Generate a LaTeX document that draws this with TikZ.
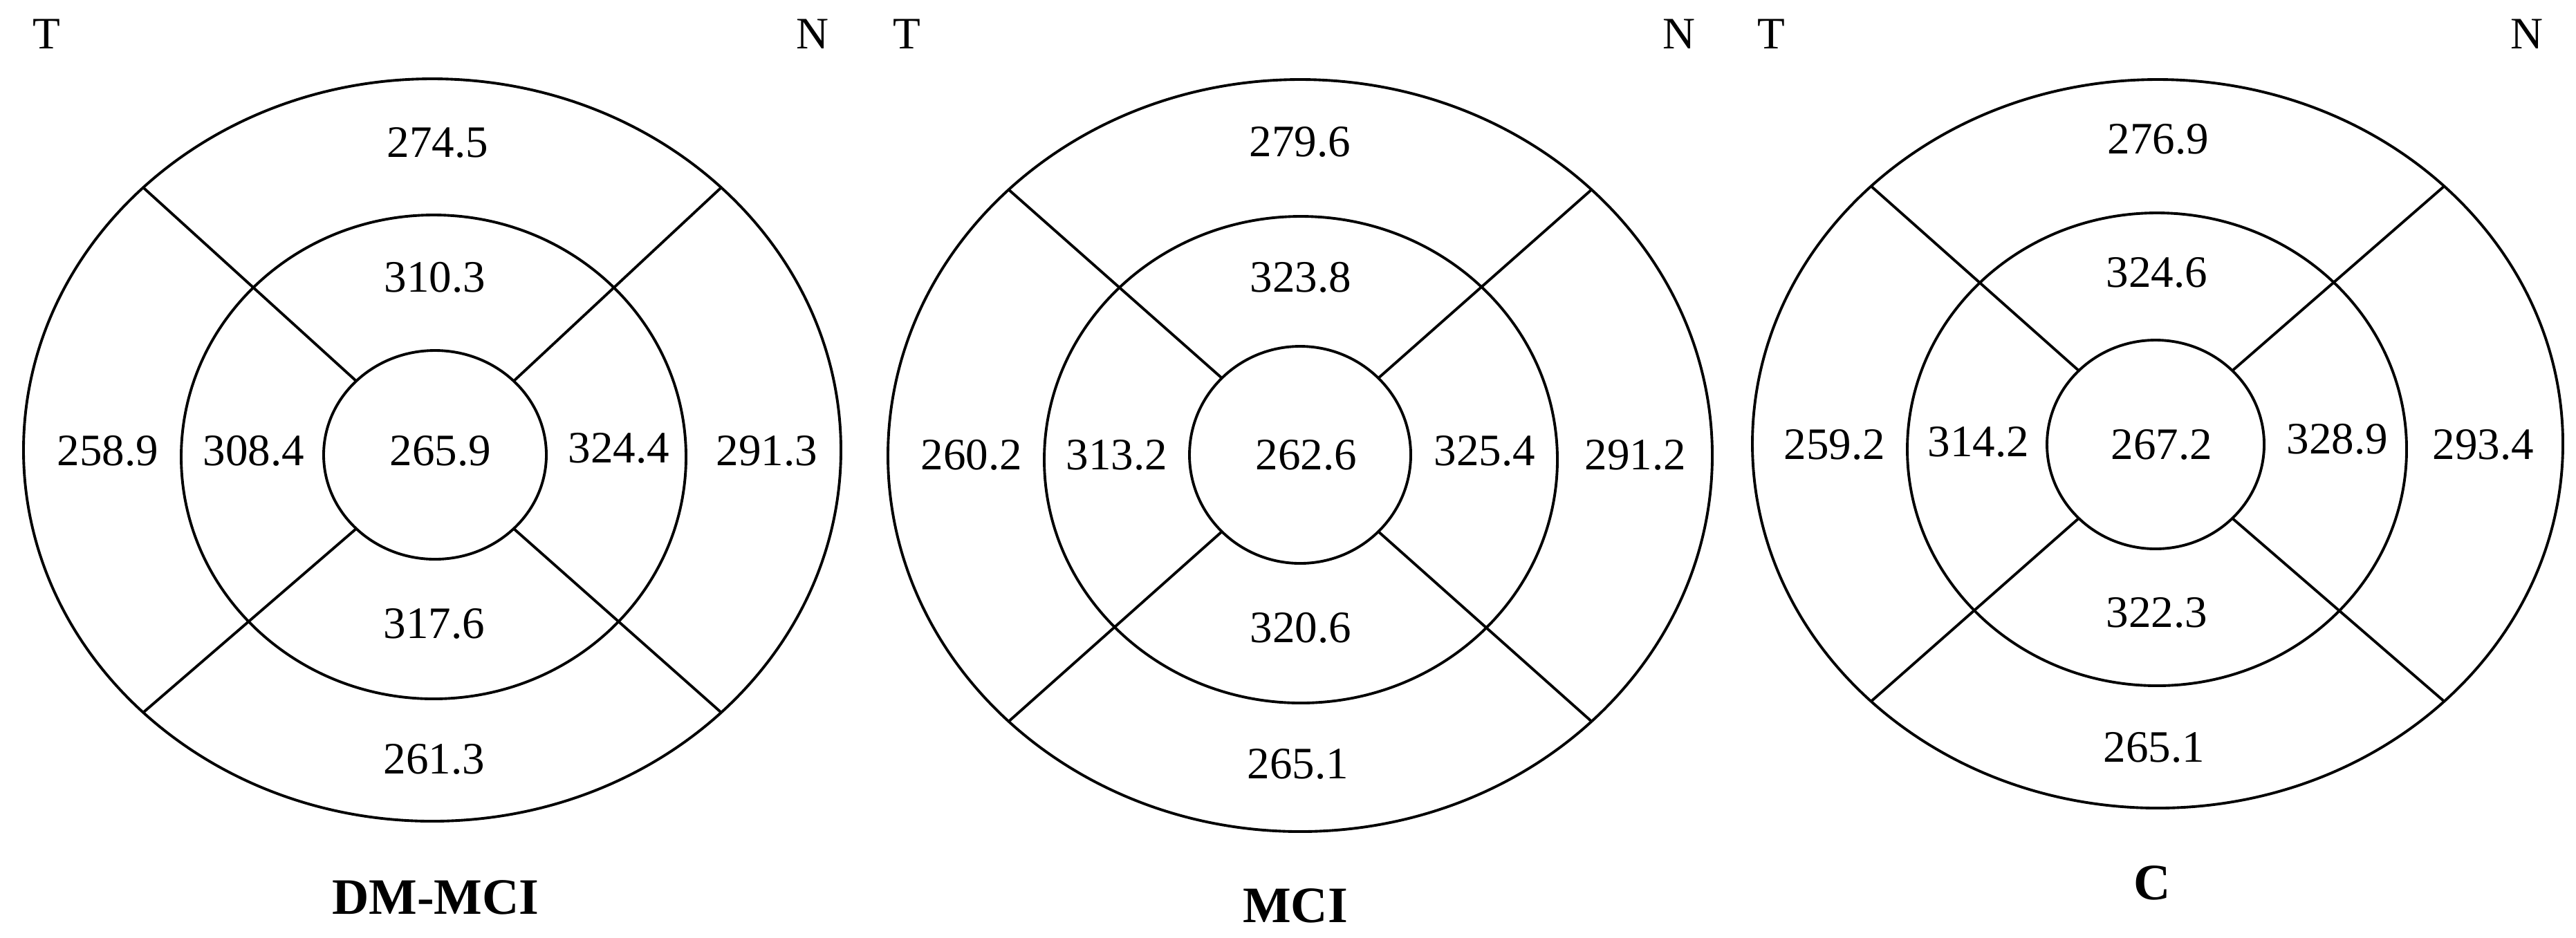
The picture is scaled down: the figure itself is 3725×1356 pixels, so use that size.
\documentclass[tikz,border=0pt]{standalone}
\usepackage{fontspec}
\setmainfont{Liberation Serif}
\usetikzlibrary{calc}
\begin{document}
\begin{tikzpicture}[x=0.01cm,y=-0.01cm,
  ring/.style={line width=1.1pt},
  spoke/.style={line width=1.1pt},
  val/.style={font=\fontsize{18.5}{20}\selectfont, inner sep=0pt},
  side/.style={font=\fontsize{18.5}{20}\selectfont, inner sep=0pt},
  grp/.style={font=\fontsize{21}{23}\selectfont\bfseries, inner sep=0pt}]
\useasboundingbox[fill=white] (0,0) rectangle (3725,1356);

% ---------------- chart 1: DM-MCI
\coordinate (A-o) at (625,651);
\coordinate (A-m) at (627,661);
\coordinate (A-i) at (629,658);
\draw[ring] (A-o) ellipse [x radius=591, y radius=537];
\draw[ring] (A-m) ellipse [x radius=365, y radius=350];
\draw[ring] (A-i) ellipse [x radius=161, y radius=151];
\foreach \a in {45,135,225,315}
  \draw[spoke] ($(A-i)+(\a:161 and 151)$) -- ($(A-o)+(\a:591 and 537)$);
\node[side] (A-T) at (67,49) {T};
\node[side] (A-N) at (1175,49) {N};
\node[val] (A-os) at (633,206) {274.5};
\node[val] (A-is) at (629,401) {310.3};
\node[val] (A-ot) at (156,652) {258.9};
\node[val] (A-it) at (367,652) {308.4};
\node[val] (A-c)  at (637,652) {265.9};
\node[val] (A-in) at (895,648) {324.4};
\node[val] (A-on) at (1109,652) {291.3};
\node[val] (A-ii) at (628,902) {317.6};
\node[val] (A-oi) at (628,1098) {261.3};
\node[grp] (A-lab) at (630,1298) {DM-MCI};

% ---------------- chart 2: MCI
\coordinate (B-o) at (1880,659);
\coordinate (B-m) at (1881,665);
\coordinate (B-i) at (1880,658);
\draw[ring] (B-o) ellipse [x radius=596, y radius=544];
\draw[ring] (B-m) ellipse [x radius=371, y radius=352];
\draw[ring] (B-i) ellipse [x radius=160, y radius=157];
\foreach \a in {45,135,225,315}
  \draw[spoke] ($(B-i)+(\a:160 and 157)$) -- ($(B-o)+(\a:596 and 544)$);
\node[side] (B-T) at (1311,49) {T};
\node[side] (B-N) at (2428,49) {N};
\node[val] (B-os) at (1880,205) {279.6};
\node[val] (B-is) at (1881,401) {323.8};
\node[val] (B-ot) at (1405,658) {260.2};
\node[val] (B-it) at (1615,658) {313.2};
\node[val] (B-c)  at (1889,658) {262.6};
\node[val] (B-in) at (2147,652) {325.4};
\node[val] (B-on) at (2365,658) {291.2};
\node[val] (B-ii) at (1881,908) {320.6};
\node[val] (B-oi) at (1877,1105) {265.1};
\node[grp] (B-lab) at (1873,1310) {MCI};

% ---------------- chart 3: C
\coordinate (C-o) at (3120,642);
\coordinate (C-m) at (3119,650);
\coordinate (C-i) at (3117,643);
\draw[ring] (C-o) ellipse [x radius=586, y radius=527];
\draw[ring] (C-m) ellipse [x radius=361, y radius=342];
\draw[ring] (C-i) ellipse [x radius=157, y radius=151];
\foreach \a in {45,135,225,315}
  \draw[spoke] ($(C-i)+(\a:157 and 151)$) -- ($(C-o)+(\a:586 and 527)$);
\node[side] (C-T) at (2561,49) {T};
\node[side] (C-N) at (3654,49) {N};
\node[val] (C-os) at (3121,201) {276.9};
\node[val] (C-is) at (3119,394) {324.6};
\node[val] (C-ot) at (2653,643) {259.2};
\node[val] (C-it) at (2861,639) {314.2};
\node[val] (C-c)  at (3126,643) {267.2};
\node[val] (C-in) at (3380,635) {328.9};
\node[val] (C-on) at (3591,643) {293.4};
\node[val] (C-ii) at (3119,886) {322.3};
\node[val] (C-oi) at (3115,1081) {265.1};
\node[grp] (C-lab) at (3112,1277) {C};
\end{tikzpicture}
\end{document}
